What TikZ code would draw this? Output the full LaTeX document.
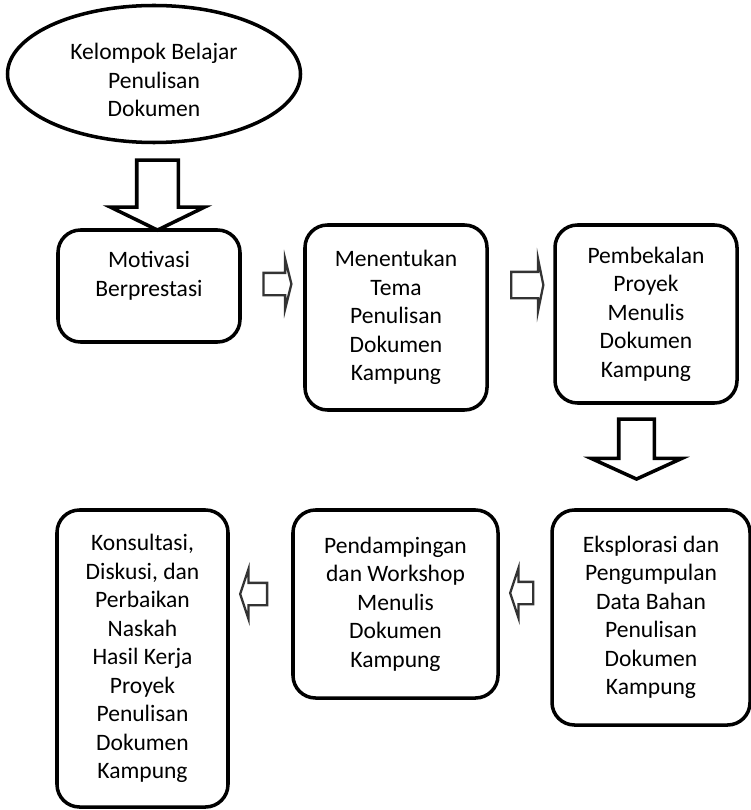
\documentclass[tikz,border=0pt]{standalone}
\usepackage{fontspec}
\setmainfont{Carlito}
\usepackage{tikz}
\usetikzlibrary{shapes.geometric,shapes.arrows}
\tikzset{stage node/.style={draw,line width=2pt,rounded corners=0.45cm,align=center,inner sep=0pt,font=\fontsize{13.4}{16.2}\selectfont},
start node/.style={ellipse,draw,line width=2pt,align=center,inner sep=0pt,minimum width=5.86cm,minimum height=2.74cm,font=\fontsize{13.4}{16.2}\selectfont},
flow arrow/.style={single arrow,draw=black!80,fill=white,line width=1.3pt,inner xsep=0pt},
big arrow/.style={flow arrow,draw=black,line width=2pt},
}

\begin{document}
\begin{tikzpicture}
		\useasboundingbox (0,0) rectangle (15.02,-16.2);
		
		\node[start node,text height=48.5pt] (kb) at (3.08,-1.48) {Kelompok Belajar\\Penulisan\\Dokumen};
		
		\node[stage node,minimum width=3.64cm,minimum height=2.24cm,text depth=14pt] (mot) at (2.98,-5.72) {Motivasi\\Berprestasi};
		\node[stage node,minimum width=3.64cm,minimum height=3.70cm] (tema) at (7.92,-6.35) {Menentukan\\Tema\\Penulisan\\Dokumen\\Kampung};
		\node[stage node,minimum width=3.64cm,minimum height=3.56cm] (bekal) at (12.92,-6.28) {Pembekalan\\Proyek\\Menulis\\Dokumen\\Kampung};
		\node[stage node,minimum width=3.96cm,minimum height=4.30cm] (eksplor) at (13.02,-12.35) {Eksplorasi dan\\Pengumpulan\\Data Bahan\\Penulisan\\Dokumen\\Kampung};
		\node[stage node,minimum width=4.10cm,minimum height=3.76cm] (damping) at (7.91,-12.08) {Pendampingan\\dan Workshop\\Menulis\\Dokumen\\Kampung};
		\node[stage node,minimum width=3.42cm,minimum height=5.94cm] (konsul) at (2.85,-13.17) {Konsultasi,\\Diskusi, dan\\Perbaikan\\Naskah\\Hasil Kerja\\Proyek\\Penulisan\\Dokumen\\Kampung};
		
		% block arrows between the stages
		\node[big arrow,minimum height=1.40cm,inner ysep=0.38cm,single arrow head extend=0.53cm,single arrow tip angle=128,rotate=-90] (d1) at (3.15,-3.80) {};
		\node[flow arrow,minimum height=0.56cm,inner ysep=0.20cm,single arrow head extend=0.28cm,single arrow tip angle=152] (r1) at (5.52,-5.68) {};
		\node[flow arrow,minimum height=0.64cm,inner ysep=0.24cm,single arrow head extend=0.26cm,single arrow tip angle=157] (r2) at (10.52,-5.70) {};
		\node[big arrow,minimum height=1.20cm,inner ysep=0.32cm,single arrow head extend=0.55cm,single arrow tip angle=131,rotate=-90] (d2) at (12.73,-8.90) {};
		\node[flow arrow,minimum height=0.46cm,inner ysep=0.20cm,single arrow head extend=0.28cm,single arrow tip angle=143,rotate=180] (l1) at (10.47,-11.86) {};
		\node[flow arrow,minimum height=0.54cm,inner ysep=0.20cm,single arrow head extend=0.28cm,single arrow tip angle=143,rotate=180] (l2) at (5.11,-11.88) {};
\end{tikzpicture}
\end{document}
